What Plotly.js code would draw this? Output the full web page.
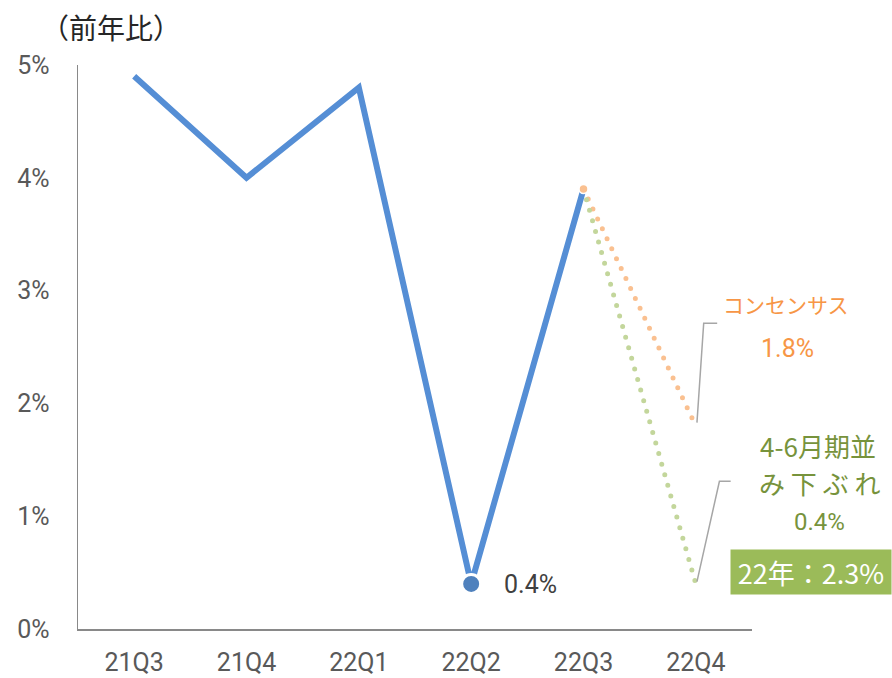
<!DOCTYPE html>
<html>
<head>
<meta charset="utf-8">
<script src="https://cdn.plot.ly/plotly-3.0.1.min.js"></script>
<style>
html,body{margin:0;padding:0;background:#fff;}
#chart{width:892px;height:678px;}
.scatterlayer .trace.dotted .js-line{stroke-linecap:round;}
</style>
</head>
<body>
<div id="chart"></div>
<script>
const categories = ['21Q3','21Q4','22Q1','22Q2','22Q3','22Q4'];
const actualValues = [4.9, 4.0, 4.8, 0.4, 3.9];
const consensusCats = ['22Q3','22Q4'];
const consensusValues = [3.9, 1.8];
const downsideCats = ['22Q3','22Q4'];
const downsideValues = [3.9, 0.4];
const yTickVals = [0,1,2,3,4,5];
const yTickText = ['0%','1%','2%','3%','4%','5%'];

const numFamily = 'Roboto, "Liberation Sans", sans-serif';
const tickFont = {family:numFamily, size:25, color:'#595959'};
const jpFont = '"Noto Sans CJK JP", Roboto, sans-serif';

const traces = [
  {x: consensusCats, y: consensusValues, type:'scatter', mode:'lines',
   line:{color:'#FAC090', width:5, dash:'0px,11px'}, hoverinfo:'skip', name:'consensus'},
  {x: downsideCats, y: downsideValues, type:'scatter', mode:'lines',
   line:{color:'#C3D69B', width:5, dash:'0px,11px'}, hoverinfo:'skip', name:'downside'},
  {x: categories.slice(0,5), y: actualValues, type:'scatter', mode:'lines',
   line:{color:'#558ED5', width:6}, hoverinfo:'skip', name:'actual'},
  {x: [categories[3]], y: [actualValues[3]], type:'scatter', mode:'markers',
   marker:{color:'#4F81BD', size:19, line:{color:'#ffffff', width:3}}, hoverinfo:'skip'},
  {x: [categories[4]], y: [actualValues[4]], type:'scatter', mode:'markers',
   marker:{color:'#FAC090', size:9, line:{color:'#ffffff', width:1.5}}, hoverinfo:'skip'}
];

const fiveX = 5; // category index of 22Q4
const C = {xanchor:'center', yanchor:'middle', showarrow:false, xref:'paper', yref:'paper'};
const layout = {
  width:892, height:678,
  margin:{l:78, r:140, t:65, b:49},
  paper_bgcolor:'#fff', plot_bgcolor:'#fff',
  showlegend:false,
  xaxis:{type:'category', categoryarray:categories, range:[-0.5,5.5], showgrid:false, zeroline:false,
    showline:true, linecolor:'#898989', linewidth:1.5, ticks:'', tickfont:tickFont, ticklabelstandoff:10},
  yaxis:{range:[0,5], tickvals:yTickVals, ticktext:yTickText, showgrid:false, zeroline:false,
    showline:true, linecolor:'#898989', linewidth:1.5, ticks:'', tickfont:tickFont, ticklabelstandoff:22},
  shapes:[
    {type:'path', xref:'x', yref:'y', path:`M ${fiveX+0.01},${consensusValues[1]+0.03} L ${fiveX+0.07},2.71 L ${fiveX+0.19},2.71`,
     line:{color:'#A6A6A6', width:1.5}},
    {type:'path', xref:'x', yref:'y', path:`M ${fiveX+0.01},${downsideValues[1]+0.02} L ${fiveX+0.21},1.31 L ${fiveX+0.31},1.31`,
     line:{color:'#A6A6A6', width:1.5}}
  ],
  annotations:[
    {xref:'paper', yref:'paper', x:-0.058, y:1.068, xanchor:'left', yanchor:'middle', showarrow:false,
     text:'（前年比）', font:{family:jpFont, size:28, color:'#262626'}},
    {xref:'x', yref:'y', x:3.0, y:0.4, xshift:59, yshift:-1, showarrow:false, text:'0.4%',
     font:{family:numFamily, size:25, color:'#404040'}},
    {...C, x:1.050, y:0.576, text:'コンセンサス',
     font:{family:jpFont, size:21, color:'#F79646'}},
    {...C, x:1.052, y:0.498, text:'1.8%',
     font:{family:numFamily, size:25, color:'#F79646'}},
    {...C, x:1.098, y:0.326, text:'4-6月期並',
     font:{family:jpFont, size:26, color:'#77933C'}},
    {...C, x:1.100, y:0.259, text:'み 下 ぶ れ',
     font:{family:jpFont, size:26, color:'#77933C'}},
    {...C, x:1.100, y:0.190, text:'0.4%',
     font:{family:numFamily, size:24, color:'#77933C'}},
    {...C, x:1.088, y:0.101, text:'22年：2.3%',
     bgcolor:'#9BBB59', width:156, height:40, borderpad:2,
     font:{family:jpFont, size:27, color:'#ffffff'}}
  ]
};

Plotly.newPlot('chart', traces, layout, {displayModeBar:false, staticPlot:true}).then(() => {
  document.querySelectorAll('.scatterlayer .trace').forEach((t,i)=>{ if(i<2) t.classList.add('dotted'); });
});
</script>
</body>
</html>
